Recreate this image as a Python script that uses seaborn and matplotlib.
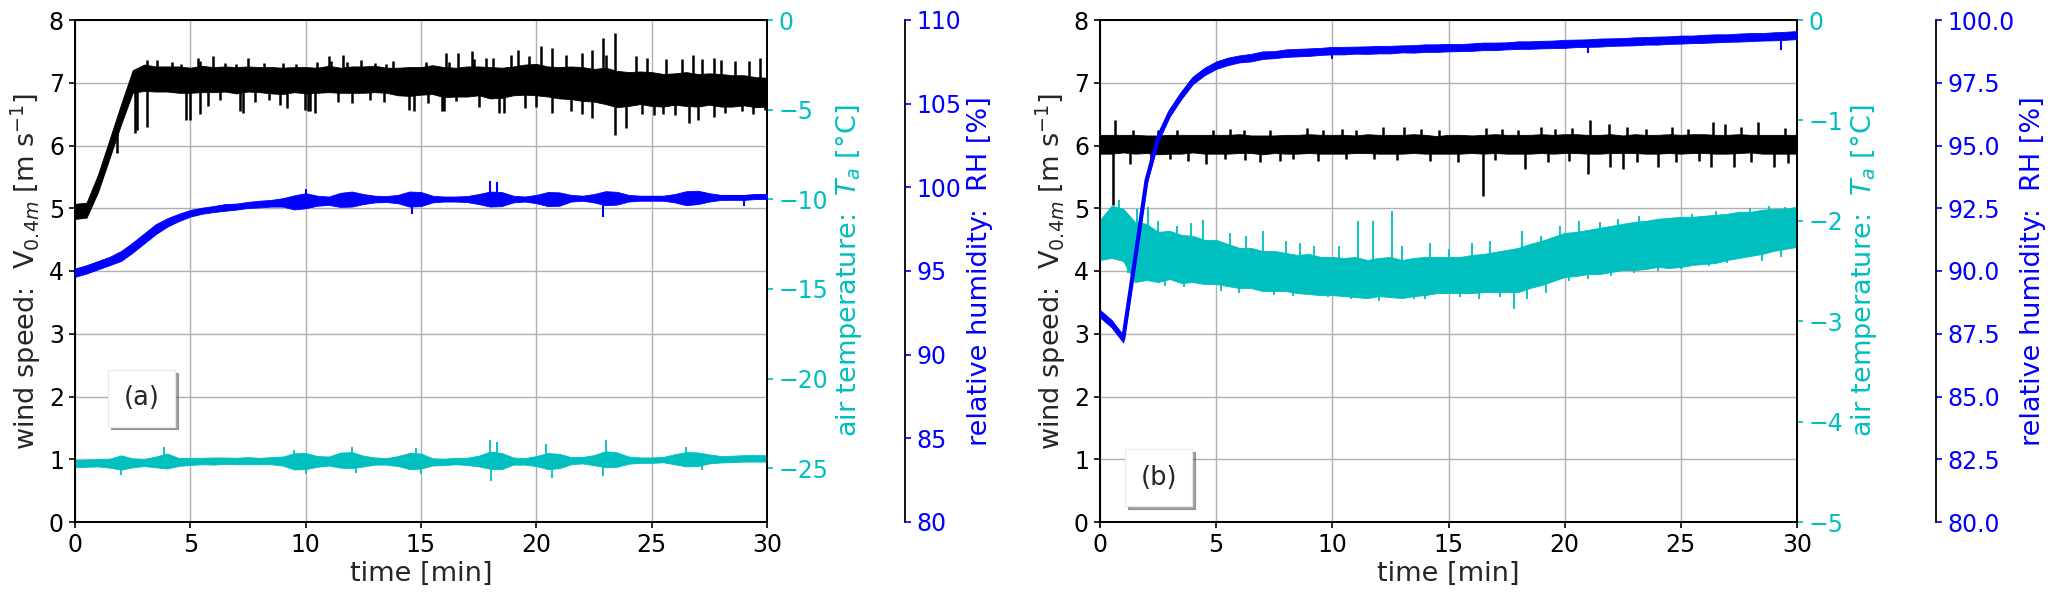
import numpy as np
import pandas as pd
import matplotlib
matplotlib.use("Agg")
import matplotlib.pyplot as plt
import seaborn as sns
from matplotlib.lines import Line2D
from matplotlib.ticker import FormatStrFormatter

# ---------------- data ----------------
time_min = np.linspace(0, 30, 61)          # sample times [min], every 0.5 min
x_ticks = [0, 5, 10, 15, 20, 25, 30]

# panel (a)
a_wind_mid = [4.95, 4.97, 5.40, 5.95, 6.50, 7.02, 7.08, 7.06, 7.06, 7.05,
              7.04, 7.06, 7.05, 7.06, 7.04, 7.06, 7.05, 7.04, 7.03, 7.05,
              7.04, 7.04, 7.06, 7.04, 7.05, 7.05, 7.06, 7.04, 7.02, 7.02,
              7.03, 7.05, 7.01, 7.01, 7.02, 7.03, 7.00, 7.00, 7.03, 7.05,
              7.05, 7.02, 7.00, 7.00, 6.98, 6.96, 6.95, 6.90, 6.90, 6.92,
              6.90, 6.88, 6.90, 6.90, 6.88, 6.90, 6.88, 6.87, 6.88, 6.85,
              6.85]
a_wind_hw = [0.12, 0.12, 0.14, 0.15, 0.16, 0.18, 0.21, 0.20, 0.20, 0.21,
             0.20, 0.21, 0.20, 0.20, 0.21, 0.20, 0.20, 0.21, 0.21, 0.20,
             0.21, 0.20, 0.21, 0.20, 0.21, 0.21, 0.21, 0.20, 0.22, 0.23,
             0.22, 0.23, 0.24, 0.23, 0.24, 0.23, 0.25, 0.24, 0.23, 0.24,
             0.25, 0.24, 0.25, 0.26, 0.27, 0.26, 0.29, 0.29, 0.27, 0.26,
             0.27, 0.26, 0.25, 0.27, 0.26, 0.25, 0.26, 0.25, 0.24, 0.24,
             0.23]
a_wind_spike_t = [1.8, 2.6, 3.1, 3.1, 5.0, 5.4, 5.4, 6.0, 7.3, 7.5,
                  9.2, 10.1, 10.4, 11.1, 11.8, 13.8, 14.5, 14.7, 16.0, 16.1,
                  16.2, 17.2, 17.3, 18.1, 18.4, 18.6, 18.9, 19.2, 20.2, 20.7,
                  20.7, 21.97, 22.4, 22.4, 22.9, 23.4, 23.4, 23.9, 24.3, 25.1,
                  26.3, 26.6, 26.8, 27.0, 27.7, 27.7, 28.6, 29.7, 29.9,
                  3.54, 4.2, 4.6, 5.34, 6.5, 7.0, 8.2, 9.0, 9.6, 10.5,
                  11.0, 11.6, 12.4, 13.0, 13.5, 15.2, 16.6, 17.8, 19.7, 21.3,
                  23.0, 24.8, 25.6, 27.2, 28.0, 29.2,
                  2.7, 4.83, 5.77, 6.3, 7.14, 7.8, 8.4, 8.87, 9.95, 10.2,
                  11.4, 12.0, 12.8, 13.4, 15.3, 15.9, 16.5, 17.5, 19.5, 20.0,
                  21.5, 22.0, 24.6, 25.5, 26.0, 28.2, 28.9, 29.4]
a_wind_spike_v = [5.88, 6.2, 7.37, 6.3, 6.41, 7.35, 6.5, 7.42, 6.52, 7.4,
                  6.6, 6.55, 6.52, 7.35, 7.33, 7.35, 6.57, 6.55, 6.55, 7.48,
                  7.33, 7.5, 7.38, 7.4, 6.52, 6.52, 7.45, 7.52, 7.58, 7.55,
                  6.52, 7.48, 7.52, 6.44, 7.72, 7.8, 6.17, 6.28, 7.43, 6.48,
                  7.38, 6.36, 7.45, 6.4, 7.4, 6.45, 7.35, 7.4, 6.57,
                  7.37, 7.33, 7.3, 7.39, 7.32, 7.3, 7.32, 7.31, 7.3, 7.33,
                  7.43, 7.45, 7.37, 7.32, 7.3, 7.33, 7.48, 7.4, 7.42, 7.45,
                  7.45, 7.4, 7.38, 7.38, 7.36, 7.35,
                  6.24, 6.41, 6.63, 6.72, 6.55, 6.7, 6.72, 6.65, 6.57, 6.55,
                  6.7, 6.68, 6.72, 6.7, 6.68, 6.55, 6.71, 6.62, 6.6, 6.62,
                  6.55, 6.5, 6.5, 6.5, 6.48, 6.52, 6.55, 6.5]

a_temp_mid = [-24.75, -24.72, -24.70, -24.72, -24.68, -24.70, -24.68, -24.65, -24.60, -24.65,
              -24.62, -24.60, -24.60, -24.58, -24.60, -24.58, -24.60, -24.58, -24.60, -24.62,
              -24.60, -24.62, -24.60, -24.55, -24.55, -24.60, -24.60, -24.62, -24.60, -24.60,
              -24.60, -24.65, -24.65, -24.60, -24.62, -24.60, -24.55, -24.60, -24.60, -24.62,
              -24.60, -24.60, -24.60, -24.58, -24.55, -24.55, -24.50, -24.52, -24.55, -24.55,
              -24.55, -24.52, -24.50, -24.50, -24.50, -24.48, -24.50, -24.48, -24.45, -24.45,
              -24.45]
a_temp_hw = [0.20, 0.20, 0.20, 0.25, 0.40, 0.25, 0.20, 0.30, 0.42, 0.22,
             0.20, 0.18, 0.20, 0.18, 0.18, 0.20, 0.18, 0.20, 0.25, 0.45,
             0.45, 0.30, 0.25, 0.42, 0.45, 0.30, 0.20, 0.18, 0.28, 0.45,
             0.42, 0.20, 0.18, 0.18, 0.20, 0.30, 0.48, 0.45, 0.20, 0.18,
             0.28, 0.45, 0.40, 0.20, 0.18, 0.28, 0.45, 0.40, 0.20, 0.15,
             0.15, 0.15, 0.28, 0.40, 0.38, 0.25, 0.18, 0.18, 0.18, 0.18,
             0.18]
a_temp_spike_t = [2.0, 3.86, 9.5, 10.0, 12.0, 12.2, 14.8, 15.0, 18.0, 18.05,
                  18.3, 20.4, 20.7, 22.9, 23.0, 26.5, 27.2]
a_temp_spike_v = [-25.4, -23.84, -24.0, -25.3, -23.8, -25.25, -23.9, -25.3, -23.45, -25.69,
                  -23.55, -23.66, -25.55, -25.41, -23.45, -23.84, -25.1]

a_rh_mid = [94.9, 95.1, 95.35, 95.6, 95.9, 96.4, 96.95, 97.5, 97.9, 98.2,
            98.45, 98.6, 98.7, 98.8, 98.85, 98.95, 99.0, 99.05, 99.1, 99.1,
            99.2, 99.2, 99.2, 99.25, 99.3, 99.3, 99.3, 99.3, 99.3, 99.3,
            99.3, 99.3, 99.3, 99.3, 99.3, 99.3, 99.3, 99.3, 99.3, 99.3,
            99.3, 99.3, 99.3, 99.35, 99.35, 99.35, 99.35, 99.35, 99.35, 99.35,
            99.35, 99.35, 99.35, 99.35, 99.4, 99.4, 99.4, 99.4, 99.4, 99.45,
            99.45]
a_rh_hw = [0.25, 0.25, 0.25, 0.25, 0.30, 0.30, 0.30, 0.30, 0.25, 0.22,
           0.20, 0.18, 0.18, 0.20, 0.18, 0.18, 0.20, 0.20, 0.25, 0.42,
           0.45, 0.30, 0.25, 0.42, 0.45, 0.30, 0.20, 0.18, 0.25, 0.45,
           0.42, 0.20, 0.15, 0.15, 0.18, 0.30, 0.45, 0.42, 0.20, 0.15,
           0.25, 0.42, 0.40, 0.20, 0.15, 0.25, 0.42, 0.38, 0.20, 0.15,
           0.15, 0.15, 0.25, 0.42, 0.40, 0.25, 0.15, 0.15, 0.15, 0.15,
           0.15]
a_rh_spike_t = [10.0, 14.6, 18.0, 18.3, 22.9, 29.0]
a_rh_spike_v = [99.9, 98.4, 100.4, 100.3, 98.2, 98.9]

# panel (b)
b_wind_mid = [6.02, 6.02, 6.03, 6.02, 6.02, 6.01, 6.02, 6.02, 6.03, 6.02,
              6.02, 6.02, 6.03, 6.02, 6.01, 6.02, 6.02, 6.02, 6.03, 6.02,
              6.02, 6.02, 6.02, 6.03, 6.02, 6.02, 6.02, 6.03, 6.02, 6.01,
              6.02, 6.02, 6.02, 6.02, 6.03, 6.02, 6.02, 6.02, 6.03, 6.02,
              6.03, 6.03, 6.02, 6.02, 6.03, 6.02, 6.03, 6.02, 6.02, 6.03,
              6.02, 6.03, 6.03, 6.02, 6.02, 6.03, 6.03, 6.02, 6.02, 6.02,
              6.02]
b_wind_hw = [0.15, 0.15, 0.14, 0.15, 0.14, 0.15, 0.15, 0.15, 0.14, 0.15,
             0.15, 0.15, 0.15, 0.14, 0.15, 0.14, 0.15, 0.15, 0.15, 0.15,
             0.15, 0.15, 0.14, 0.15, 0.15, 0.15, 0.15, 0.15, 0.15, 0.14,
             0.15, 0.15, 0.14, 0.15, 0.15, 0.15, 0.15, 0.15, 0.15, 0.15,
             0.15, 0.15, 0.15, 0.15, 0.15, 0.14, 0.15, 0.15, 0.15, 0.15,
             0.15, 0.15, 0.15, 0.15, 0.15, 0.15, 0.14, 0.15, 0.15, 0.15,
             0.15]
b_wind_spike_t = [0.57, 0.64, 1.29, 1.43, 4.56, 4.88, 6.9, 7.75, 8.9, 11.8,
                  12.2, 13.1, 15.4, 16.5, 16.6, 18.3, 21.0, 21.1, 21.9, 21.96,
                  22.5, 24.0, 26.3, 26.4, 26.9, 27.3, 28.3, 29.0,
                  2.5, 3.3, 5.6, 6.2, 7.3, 9.6, 10.4, 11.0, 13.8, 14.6,
                  17.3, 18.0, 19.0, 19.6, 20.3, 22.7, 23.5, 24.6, 25.3, 27.6,
                  29.5,
                  2.2, 3.0, 3.8, 5.4, 6.25, 8.3, 9.4, 10.6, 12.8, 14.2,
                  17.0, 19.3, 20.2, 23.1, 24.8, 25.8, 28.0, 29.6]
b_wind_spike_v = [5.05, 6.4, 5.71, 6.25, 5.71, 6.25, 5.73, 5.76, 6.28, 5.78,
                  6.3, 6.3, 5.73, 5.2, 6.28, 5.62, 5.55, 6.4, 6.35, 5.65,
                  5.62, 5.65, 5.65, 6.37, 6.35, 5.66, 6.37, 5.65,
                  6.25, 6.24, 6.27, 6.25, 6.24, 6.25, 6.27, 6.24, 6.26, 6.24,
                  6.27, 6.25, 6.3, 6.26, 6.28, 6.3, 6.26, 6.3, 6.27, 6.3,
                  6.28,
                  5.76, 5.78, 5.75, 5.78, 5.77, 5.78, 5.76, 5.78, 5.77, 5.76,
                  5.77, 5.74, 5.76, 5.74, 5.73, 5.76, 5.74, 5.72]

b_temp_mid = [-2.19, -2.11, -2.14, -2.31, -2.31, -2.36, -2.34, -2.38, -2.38, -2.41,
              -2.41, -2.44, -2.47, -2.47, -2.50, -2.50, -2.51, -2.53, -2.53, -2.55,
              -2.55, -2.56, -2.56, -2.58, -2.56, -2.56, -2.58, -2.56, -2.55, -2.54,
              -2.54, -2.54, -2.53, -2.52, -2.51, -2.50, -2.49, -2.45, -2.42, -2.38,
              -2.34, -2.33, -2.31, -2.30, -2.28, -2.26, -2.25, -2.24, -2.22, -2.22,
              -2.21, -2.20, -2.19, -2.18, -2.16, -2.14, -2.13, -2.11, -2.09, -2.08,
              -2.06]
b_temp_hw = [0.20, 0.26, 0.26, 0.30, 0.28, 0.25, 0.24, 0.24, 0.23, 0.22,
             0.22, 0.21, 0.20, 0.20, 0.20, 0.20, 0.19, 0.19, 0.20, 0.19,
             0.19, 0.19, 0.20, 0.19, 0.19, 0.20, 0.19, 0.19, 0.19, 0.18,
             0.18, 0.18, 0.19, 0.19, 0.20, 0.21, 0.22, 0.22, 0.22, 0.22,
             0.22, 0.22, 0.22, 0.23, 0.23, 0.23, 0.24, 0.24, 0.24, 0.25,
             0.25, 0.24, 0.24, 0.24, 0.23, 0.23, 0.22, 0.22, 0.21, 0.20,
             0.20]
b_temp_spike_t = [0.8, 2.08, 4.44, 7.03, 9.8, 11.1, 11.76, 12.55, 13.5, 17.2,
                  17.8, 18.15, 18.4, 21.5, 27.98,
                  1.6, 2.5, 3.3, 3.9, 5.6, 6.3, 8.0, 8.6, 9.2, 10.3,
                  13.0, 14.2, 15.0, 16.0, 16.8, 19.0, 19.8, 20.6, 22.3, 23.2,
                  24.5, 25.5, 26.5, 28.8, 29.5,
                  1.2, 2.8, 3.6, 5.2, 6.0, 7.5, 8.3, 10.8, 12.0, 14.0,
                  15.5, 16.3, 19.2, 20.2, 21.0, 22.0, 23.0, 24.0, 25.0, 26.2,
                  27.0, 28.5, 29.3]
b_temp_spike_v = [-1.79, -1.86, -1.99, -2.1, -2.76, -2.0, -2.0, -1.9, -2.78, -2.76,
                  -2.88, -2.1, -2.78, -2.01, -1.87,
                  -1.88, -2.0, -2.05, -2.02, -2.12, -2.15, -2.2, -2.22, -2.25, -2.25,
                  -2.25, -2.22, -2.28, -2.22, -2.2, -2.15, -2.05, -2.0, -1.98, -1.95,
                  -1.97, -1.93, -1.9, -1.85, -1.86,
                  -2.52, -2.65, -2.66, -2.7, -2.72, -2.74, -2.75, -2.78, -2.8, -2.78,
                  -2.76, -2.78, -2.72, -2.6, -2.58, -2.55, -2.52, -2.5, -2.48, -2.45,
                  -2.42, -2.4, -2.36]

b_rh_mid = [88.3, 87.9, 87.3, 90.4, 93.6, 95.3, 96.3, 97.0, 97.6, 97.95,
            98.2, 98.35, 98.45, 98.5, 98.6, 98.62, 98.68, 98.7, 98.72, 98.75,
            98.78, 98.78, 98.8, 98.8, 98.82, 98.82, 98.85, 98.85, 98.88, 98.88,
            98.9, 98.9, 98.92, 98.95, 98.95, 98.97, 99.0, 99.0, 99.02, 99.03,
            99.05, 99.07, 99.08, 99.1, 99.12, 99.13, 99.15, 99.17, 99.18, 99.2,
            99.22, 99.23, 99.25, 99.27, 99.28, 99.3, 99.32, 99.33, 99.35, 99.37,
            99.4]
b_rh_hw = [0.15, 0.15, 0.15, 0.15, 0.15, 0.15, 0.15, 0.15, 0.15, 0.15,
           0.15, 0.15, 0.14, 0.15, 0.15, 0.14, 0.15, 0.15, 0.15, 0.14,
           0.15, 0.15, 0.14, 0.15, 0.15, 0.15, 0.14, 0.15, 0.15, 0.15,
           0.15, 0.14, 0.15, 0.15, 0.15, 0.14, 0.15, 0.15, 0.15, 0.15,
           0.16, 0.15, 0.15, 0.16, 0.15, 0.15, 0.16, 0.15, 0.16, 0.15,
           0.16, 0.15, 0.16, 0.16, 0.15, 0.16, 0.16, 0.15, 0.16, 0.16,
           0.16]
b_rh_spike_t = [10.0, 21.0, 29.3]
b_rh_spike_v = [98.45, 98.7, 98.8]

a_temp_ticks = [-25, -20, -15, -10, -5, 0]
a_rh_ticks = [80, 85, 90, 95, 100, 105, 110]
b_temp_ticks = [-5, -4, -3, -2, -1, 0]
b_rh_ticks = [80.0, 82.5, 85.0, 87.5, 90.0, 92.5, 95.0, 97.5, 100.0]

# ---------------- style ----------------
sns.set_theme(style="ticks", rc={
    "axes.linewidth": 1.3,
    "xtick.major.width": 1.2, "ytick.major.width": 1.2,
    "xtick.major.size": 4.5, "ytick.major.size": 4.5,
    "xtick.labelsize": 17, "ytick.labelsize": 17,
    "axes.labelsize": 19.5,
    "axes.edgecolor": "black",
    "xtick.color": "black", "ytick.color": "black",
    "grid.color": "#b0b0b0", "grid.linewidth": 1.0,
})
plt.rcParams["font.family"] = ["DejaVu Sans"]
plt.rcParams["mathtext.fontset"] = "dejavusans"

BLACK = "black"
CYAN = "#00bfbf"
BLUE = "#0000ff"


def band(ax, mid, hw, color, spike_t, spike_v, lw=1.5, spike_lw=1.5):
    mid = np.asarray(mid)
    hw = np.asarray(hw)
    df = pd.DataFrame({
        "t": np.concatenate([time_min, time_min]),
        "v": np.concatenate([mid - hw, mid + hw]),
    })
    sns.lineplot(data=df, x="t", y="v", ax=ax, color=color, estimator="mean",
                 errorbar=lambda v: (v.min(), v.max()),
                 err_kws={"alpha": 1.0, "linewidth": 0.6, "edgecolor": color},
                 linewidth=lw)
    base = np.interp(spike_t, time_min, mid)
    ax.vlines(spike_t, base, spike_v, color=color, lw=spike_lw)


fig = plt.figure(figsize=(20.66, 6), dpi=100)
W, H = 2066.0, 600.0
ax_a = fig.add_axes([75 / W, 78 / H, 692 / W, 502 / H])
ax_b = fig.add_axes([1100 / W, 78 / H, 697 / W, 502 / H])

panels = [
    (ax_a, "(a)", a_wind_mid, a_wind_hw, a_wind_spike_t, a_wind_spike_v,
     a_temp_mid, a_temp_hw, a_temp_spike_t, a_temp_spike_v, (-28, 0), a_temp_ticks,
     a_rh_mid, a_rh_hw, a_rh_spike_t, a_rh_spike_v, (80, 110), a_rh_ticks, "%d",
     (0.048, 0.19)),
    (ax_b, "(b)", b_wind_mid, b_wind_hw, b_wind_spike_t, b_wind_spike_v,
     b_temp_mid, b_temp_hw, b_temp_spike_t, b_temp_spike_v, (-5, 0), b_temp_ticks,
     b_rh_mid, b_rh_hw, b_rh_spike_t, b_rh_spike_v, (80, 100), b_rh_ticks, "%.1f",
     (0.036, 0.032)),
]

for (ax, tag, wm, wh, wst, wsv, tm, th, tst, tsv, tlim, tticks,
     rm, rh, rst, rsv, rlim, rticks, rfmt, tagpos) in panels:
    ax2 = ax.twinx()
    ax3 = ax.twinx()
    ax3.spines["right"].set_position(("axes", 1.2))
    for s in ("top", "left", "bottom"):
        ax3.spines[s].set_visible(False)

    band(ax, wm, wh, BLACK, wst, wsv, lw=1.5, spike_lw=1.8)
    band(ax2, tm, th, CYAN, tst, tsv, lw=1.2, spike_lw=1.3)
    band(ax3, rm, rh, BLUE, rst, rsv, lw=3.0, spike_lw=1.5)

    ax.set_xlim(0, 30)
    ax.set_xticks(x_ticks)
    ax.set_ylim(0, 8)
    ax.set_yticks(range(0, 9))
    ax.grid(True)
    ax.set_xlabel("time [min]", labelpad=3)
    ax.set_ylabel(r"wind speed:  V$_{0.4m}$ [m s$^{-1}$]", labelpad=4)

    ax2.set_ylim(*tlim)
    ax2.set_yticks(tticks)
    ax2.tick_params(axis="y", colors=CYAN)
    ax2.set_xlabel("")
    ax2.set_ylabel(r"air temperature:  $T_a$ [°C]", color=CYAN, labelpad=4)

    ax3.set_ylim(*rlim)
    ax3.set_yticks(rticks)
    ax3.yaxis.set_major_formatter(FormatStrFormatter(rfmt))
    ax3.tick_params(axis="y", colors=BLUE)
    ax3.spines["right"].set_color("black")
    ax3.set_xlabel("")
    ax3.set_ylabel("relative humidity:  RH [%]", color=BLUE, labelpad=4)

    for a in (ax, ax2, ax3):
        a.spines["right"].set_visible(True)
    ax.spines["top"].set_visible(True)

    leg = ax3.legend(handles=[Line2D([], [], linestyle="none")], labels=[tag],
                     loc="lower left", bbox_to_anchor=tagpos, borderaxespad=0,
                     handlelength=0, handletextpad=0, borderpad=0.6,
                     fontsize=18.5, frameon=True, fancybox=False, shadow=True,
                     framealpha=1.0)
    leg.get_frame().set_edgecolor("#e8e8e8")
    leg.get_frame().set_linewidth(0.8)

fig.savefig("out.png", dpi=100)
